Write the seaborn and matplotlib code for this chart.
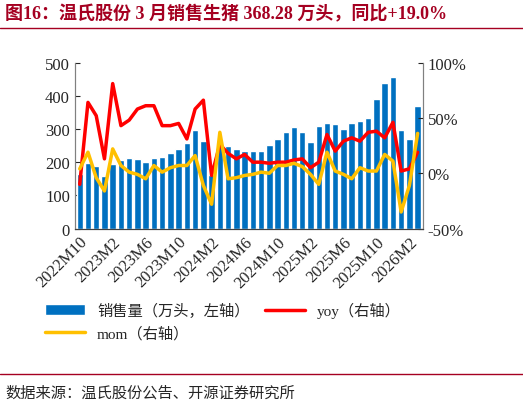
import numpy as np
import pandas as pd
import matplotlib
matplotlib.use('Agg')
import matplotlib.pyplot as plt
import seaborn as sns

sns.set_style('ticks')
plt.rcParams['font.family'] = ['Liberation Serif', 'Noto Sans CJK SC']
plt.rcParams['axes.unicode_minus'] = False

# 月份 2022M10 - 2026M3
months = [f'{y}M{m}' for y in range(2022, 2027) for m in range(1, 13)]
months = months[months.index('2022M10'):months.index('2026M3') + 1]

sales = [165, 197, 187, 159, 194, 207, 212, 210, 200, 213, 215, 227, 240, 257, 297, 264,
         160, 250, 248, 240, 233, 233, 235, 251, 269, 291, 305, 290, 260, 310, 318, 316,
         301, 317, 325, 333, 390, 437, 457, 297, 270, 368.28]
yoy = [-10, 64, 52, 13, 81, 43, 48, 58, 61, 61, 43, 43, 45, 31, 58, 66,
       -2, 26, 18, 13, 17, 10, 10, 9, 10, 10, 12, 13, 5, 10, 35, 20, 29,
       32, 29, 37, 38, 32, 46, 2, 4, 19.0]
mom = [4, 19, -4, -16, 22, 7, 1, -1, -5, 7, 1, 5, 7, 7, 16, -11,
       -28, 37, -5, -4, -2, -1, 1, 0, 7, 7, 9, 6, -1, -10, 19, 2, -1,
       -5, 5, 2, 2, 17, 11, -35, -11, 36]

df = pd.DataFrame({'month': months, 'sales': sales, 'yoy': yoy, 'mom': mom})
x = np.arange(len(df))

fig = plt.figure(figsize=(5.23, 4.10), dpi=100)
ax = fig.add_axes([0.143, 0.44, 0.665, 0.405])
ax.bar(x, df['sales'], width=0.78, color='#0070C0', label='销售量（万头，左轴）')
ax.set_ylim(0, 500)
ax.set_yticks(range(0, 501, 100))
ax.set_xlim(-0.6, len(df) - 0.4)
ax.set_xticks(x[::4])
ax.set_xticklabels(df['month'][::4], rotation=45, ha='right', rotation_mode='anchor')
ax.tick_params(labelsize=12, direction='in')

ax2 = ax.twinx()
sns.lineplot(x=x, y=df['yoy'], ax=ax2, color='#FF0000', lw=2.5, label='yoy（右轴）', legend=False)
sns.lineplot(x=x, y=df['mom'], ax=ax2, color='#FFC000', lw=2.5, label='mom（右轴）', legend=False)
ax2.set_ylim(-50, 100)
ax2.set_yticks([-50, 0, 50, 100])
ax2.set_yticklabels(['-50%', '0%', '50%', '100%'])
ax2.set_ylabel('')
ax2.tick_params(labelsize=12, direction='in')
for a in (ax, ax2):
    a.spines['top'].set_visible(False)
    a.spines['left'].set_color('#808080')
    a.spines['right'].set_color('#808080')
    a.spines['bottom'].set_color('#404040')

h1, l1 = ax.get_legend_handles_labels()
h2, l2 = ax2.get_legend_handles_labels()
# 列优先填充：第一列 销售量、mom；第二列 yoy
handles = [h1[0], h2[1], h2[0]]
labels = [l1[0], l2[1], l2[0]]
fig.legend(handles, labels, loc='upper left', bbox_to_anchor=(0.06, 0.295), ncol=2,
           frameon=False, handlelength=2.6, columnspacing=1.0,
           prop={'family': ['Liberation Serif', 'Noto Sans CJK SC'], 'size': 11})

fig.text(0.01, 0.965, '图16：温氏股份 3 月销售生猪 368.28 万头，同比+19.0%',
         fontsize=13, fontweight='bold', color='#A50021', va='center')
fig.add_artist(plt.Line2D([0.0, 1.0], [0.93, 0.93], color='#A50021', lw=1))
fig.add_artist(plt.Line2D([0.0, 1.0], [0.085, 0.085], color='#A50021', lw=1))
fig.text(0.01, 0.04, '数据来源：温氏股份公告、开源证券研究所', fontsize=11, va='center')

fig.savefig('out.png', dpi=100)
